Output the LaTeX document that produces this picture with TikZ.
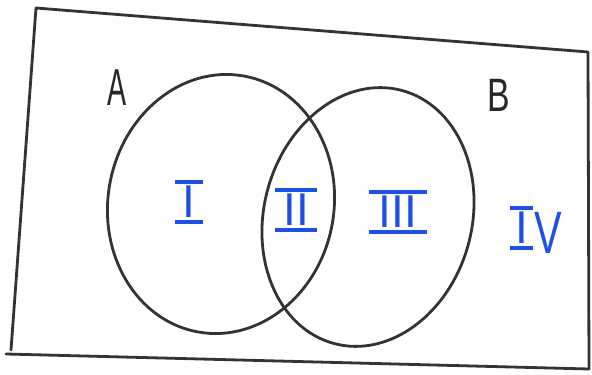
\documentclass[tikz,border=0pt]{standalone}
\usepackage{fontspec}
\setsansfont{Liberation Sans}
\newcommand\rnum[2]{\vbox{\hrule height 3.6pt\kern2.5pt\hbox{\kern#1pt #2\kern#1pt}\kern2.5pt\hrule height 3.6pt}}
\begin{document}
\begin{tikzpicture}[x=1pt,y=1pt,
  hand/.style={draw=black!80, line width=2.8pt, line cap=round, line join=round},
  setlab/.style={text=black!85, font=\sffamily\fontsize{52}{52}\selectfont, inner sep=0pt},
  region/.style={text={rgb,255:red,30;green,80;blue,230}, font=\sffamily\fontsize{46}{46}\selectfont, inner sep=0pt}]
\useasboundingbox (0,0) rectangle (592,375);
% universe rectangle
\coordinate (tl) at (36,367);
\coordinate (tr) at (588,323);
\coordinate (br) at (589,6);
\coordinate (bl) at (11,25);
\coordinate (bs) at (6,21);
\draw[hand] (bl) -- (tl) -- (tr) -- (br);
\draw[hand] (bs) -- (br);
% sets
\draw[hand, rotate around={-10:(221,171)}] (221,171) ellipse [x radius=113, y radius=130];
\draw[hand, rotate around={-15:(368,158)}] (368,158) ellipse [x radius=104, y radius=131];
% labels
\node[setlab] (A) at (117,287) {\scalebox{0.55}[1]{A}};
\node[setlab] (B) at (499,280) {\scalebox{0.65}[0.9]{B}};
\node[region] (r1) at (189,173) {\rnum{8}{I}};
\node[region] (r2) at (296,165) {\rnum{8}{II}};
\node[region] (r3) at (398,163) {\rnum{10}{III}};
\node[region] (r4) at (536,145) {\rnum{5}{I}\kern1pt\raisebox{-4pt}{\scalebox{0.9}[1.3]{V}}};
\end{tikzpicture}
\end{document}
